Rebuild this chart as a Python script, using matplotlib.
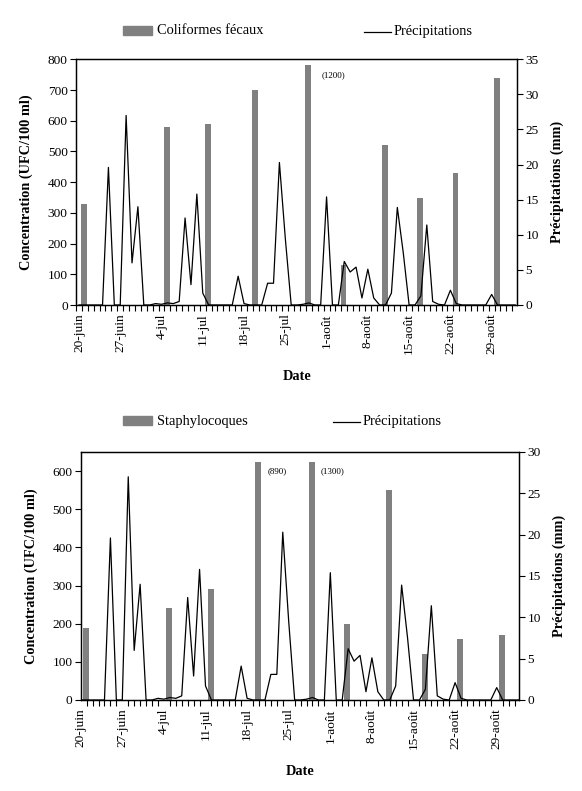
import numpy as np
import matplotlib.pyplot as plt
from matplotlib.patches import Rectangle
from matplotlib.lines import Line2D

plt.rcParams['font.family'] = ['Liberation Serif', 'DejaVu Serif']

# day 0 = 20 juin, one value per day
date_labels = ['20-juin', '27-juin', '4-jul', '11-jul', '18-jul', '25-jul',
               '1-août', '8-août', '15-août', '22-août', '29-août']
label_days = [0, 7, 14, 21, 28, 35, 42, 49, 56, 63, 70]

precip = [0, 0, 0, 0, 0, 19.6, 0, 0, 27.0, 6.0,
          14.0, 0, 0, 0.2, 0.1, 0.3, 0.2, 0.5, 12.4, 2.9,
          15.8, 1.7, 0, 0, 0, 0, 0, 4.1, 0.2, 0,
          0, 0, 3.1, 3.1, 20.3, 9.5, 0, 0, 0.1, 0.3,
          0, 0, 15.4, 0, 0, 6.2, 4.7, 5.4, 1.0, 5.1,
          1.0, 0, 0, 1.7, 13.9, 7.5, 0, 0, 1.3, 11.4,
          0.5, 0.1, 0, 2.1, 0.2, 0, 0, 0, 0, 0,
          1.5, 0, 0, 0, 0]

sample_days = [1, 15, 22, 30, 39, 45, 52, 58, 64, 71]
coliformes = [330, 580, 590, 700, 1200, 130, 520, 350, 430, 740]
staphylocoques = [190, 240, 290, 890, 1300, 200, 550, 120, 160, 170]

W, H = 582, 791
fig = plt.figure(figsize=(W / 100, H / 100), dpi=100)

BAR = '#808080'
FS = 9.6


def fx(px):
    return px / W


def fy(py):
    return 1 - py / H


def panel(box, values, name, ymax, yticks, rmax, cap, xlim, tick_start,
          note_dx, leg_y, line_x):
    x0, x1, y0, y1 = box  # pixel box: left, right, top, bottom
    ax = fig.add_axes([fx(x0), fy(y1), fx(x1 - x0), (y1 - y0) / H])
    ax2 = ax.twinx()

    shown = np.minimum(values, cap)
    ax.bar(np.array(sample_days) - 0.13, shown, width=0.98, color=BAR, zorder=1)
    for d, v, s in zip(sample_days, values, shown):
        if v > cap:
            ax.annotate('(%d)' % v, (d - 0.13, s), xytext=(note_dx, -7),
                        textcoords='offset points', fontsize=6.5,
                        ha='left', va='center')

    # line drawn on the twin axis, which sits above the bars
    ax2.plot(np.arange(len(precip)), precip, color='black', lw=0.9)

    ax.set_ylim(0, ymax)
    ax.set_yticks(yticks)
    ax2.set_ylim(0, rmax)
    ax2.set_yticks(np.arange(0, rmax + 1, 5))
    ax.set_xlim(*xlim)
    ax.set_xticks(label_days)
    ax.set_xticklabels(date_labels, rotation=90, fontsize=FS)
    ax.set_xticks(np.arange(tick_start, xlim[1], 1), minor=True)
    ax.tick_params(axis='x', which='major', length=0, pad=6)
    ax.tick_params(axis='x', which='minor', length=4, width=0.8)
    ax.tick_params(axis='y', length=4, width=0.8, labelsize=FS, pad=2)
    ax2.tick_params(axis='y', length=4, width=0.8, labelsize=FS, pad=2)
    for a in (ax, ax2):
        for sp in a.spines.values():
            sp.set_linewidth(0.9)

    ax.text(-0.112, 0.5, 'Concentration (UFC/100 ml)', transform=ax.transAxes,
            rotation=90, ha='center', va='center', fontsize=10.3, fontweight='bold')
    ax.text(1.09, 0.5, 'Précipitations (mm)', transform=ax.transAxes,
            rotation=90, ha='center', va='center', fontsize=10.3, fontweight='bold')
    ax.text(0.5, -0.289, 'Date', transform=ax.transAxes,
            ha='center', va='center', fontsize=10.3, fontweight='bold')

    # legend
    fig.add_artist(Rectangle((fx(123), fy(leg_y + 4)), fx(29), 8.5 / H,
                             color=BAR, transform=fig.transFigure))
    fig.text(fx(157), fy(leg_y), name, fontsize=10.4, va='center')
    fig.add_artist(Line2D([fx(line_x), fx(line_x + 27)], [fy(leg_y + 1)] * 2,
                          color='black', lw=0.9, transform=fig.transFigure))
    fig.text(fx(line_x + 30), fy(leg_y), 'Précipitations', fontsize=10.4, va='center')
    return ax


panel((76, 517.3, 59.3, 305), coliformes, 'Coliformes fécaux', 800,
      np.arange(0, 801, 100), 35, 780, (-0.5, 74.35), -0.5, 10, 31, 364)
panel((80.7, 519.3, 452, 700), staphylocoques, 'Staphylocoques', 650,
      np.arange(0, 601, 100), 30, 625, (0, 73.8), 0, 6.5, 421, 333)

fig.savefig('out.png', dpi=100)
